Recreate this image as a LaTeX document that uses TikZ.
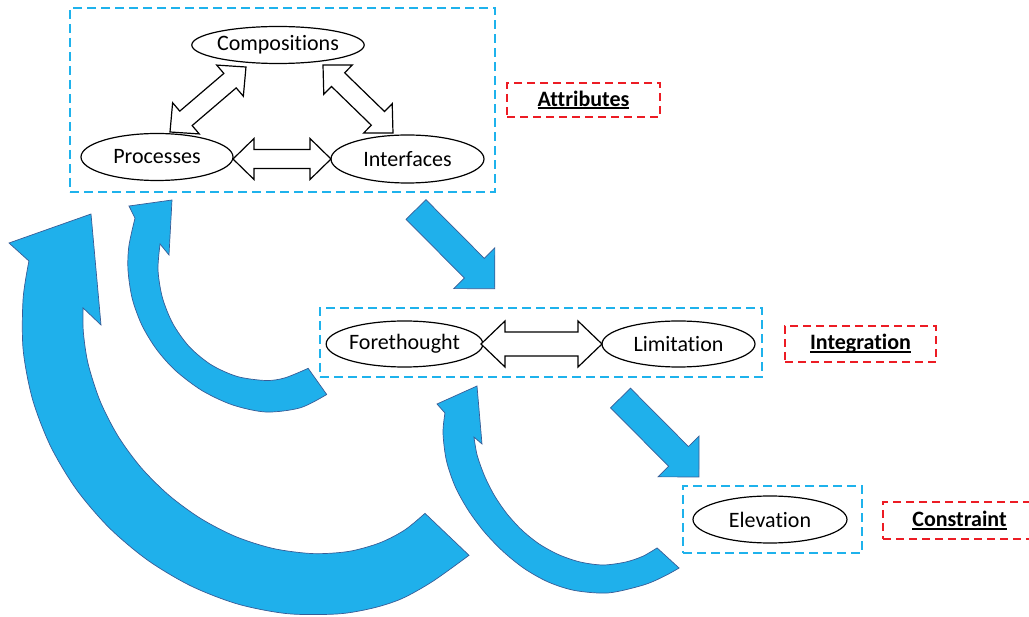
\documentclass[tikz,border=0pt]{standalone}
\usepackage{fontspec}
\setmainfont{Carlito}[Ligatures=NoCommon]
\usetikzlibrary{shapes.geometric,calc}

\definecolor{flowfill}{RGB}{31,176,235}
\definecolor{flowedge}{RGB}{56,92,150}
\definecolor{groupline}{RGB}{30,178,236}
\definecolor{tagline}{RGB}{236,28,36}

% underline at a fixed depth below the baseline, whatever the descenders
\newcommand\tagtext[1]{\setbox0\hbox{#1}\rlap{\rule[-2.8pt]{\wd0}{1.7pt}}\box0}

\tikzset{
  x=1pt, y=-1pt,
  oval/.style={ellipse, draw=black, line width=1.2pt, inner sep=0pt,
    font=\fontsize{22}{26}\selectfont},
  groupbox/.style={draw=groupline, line width=2pt, dash pattern=on 9pt off 5pt,
    inner sep=0pt},
  tagbox/.style={draw=tagline, line width=2.4pt, dash pattern=on 8pt off 5pt,
    inner sep=0pt, font=\bfseries\fontsize{22}{26}\selectfont},
  flow/.style={fill=flowfill, draw=flowedge, line width=0.7pt, line join=miter},
  hollow/.style={draw=black, fill=white, line width=1.2pt, line join=miter}
}

% hollow two-headed block arrow between two points:
% #3 half shaft width, #4 half head width, #5 head length
\newcommand\hollowlink[5]{%
  \draw[hollow] let \p1=($(#2)-(#1)$), \n1={atan2(\y1,\x1)}, \n2={veclen(\x1,\y1)} in
    [shift={(#1)}, rotate=\n1]
    (0,0) -- (#5,-#4) -- (#5,-#3) -- (\n2-#5,-#3) -- (\n2-#5,-#4) -- (\n2,0)
    -- (\n2-#5,#4) -- (\n2-#5,#3) -- (#5,#3) -- (#5,#4) -- cycle;}

% solid one-headed block arrow from a tail midpoint to a tip
\newcommand\flowarrow[2]{%
  \draw[flow] let \p1=($(#2)-(#1)$), \n1={atan2(\y1,\x1)}, \n2={veclen(\x1,\y1)} in
    [shift={(#1)}, rotate=\n1]
    (0,-14) -- (\n2-29,-14) -- (\n2-29,-29) -- (\n2,0) -- (\n2-29,29)
    -- (\n2-29,14) -- (0,14) -- cycle;}

\begin{document}
\begin{tikzpicture}
\useasboundingbox (0,0) rectangle (1029,617);
\clip (0,0) rectangle (1029,617);

% group frames
\node[groupbox, minimum width=425, minimum height=184] (attrgroup) at (282.5,100) {};
\node[groupbox, minimum width=442, minimum height=69] (integgroup) at (541,342.5) {};
\node[groupbox, minimum width=179, minimum height=67] (elevgroup) at (772.5,519.5) {};

% tags
\node[tagbox, minimum width=153, minimum height=34] (attrtag) at (583.5,100) {\tagtext{Attributes}};
\node[tagbox, minimum width=151, minimum height=36] (integtag) at (860.5,344) {\tagtext{Integration}};
\node[tagbox, minimum width=153, minimum height=37] (constag) at (959.5,520.5) {\tagtext{Constraint}};

% concepts
\node[oval, minimum width=151, minimum height=37] (comp) at (278,45) {Compositions};
\node[oval, minimum width=152, minimum height=47] (proc) at (157,157) {Processes};
\node[oval, minimum width=153, minimum height=48] (intf) at (407.5,159) {Interfaces};
\node[oval, minimum width=153, minimum height=46] (fore) at (404.5,344) {Forethought};
\node[oval, minimum width=153, minimum height=46] (limit) at (678.5,344) {Limitation};
\node[oval, minimum width=154, minimum height=47] (elev) at (770,519.5) {Elevation};

% ends of the two-headed links
\coordinate (pi1) at (233,159);  \coordinate (pi2) at (331,159);
\coordinate (pc1) at (170,132);  \coordinate (pc2) at (246,67);
\coordinate (ci1) at (323,65);   \coordinate (ci2) at (393,133);
\coordinate (fl1) at (481,344);  \coordinate (fl2) at (602,344);

\hollowlink{pi1}{pi2}{9.5}{20.5}{21}
\hollowlink{pc1}{pc2}{9.5}{20.5}{21}
\hollowlink{ci1}{ci2}{9.5}{20.5}{21}
\hollowlink{fl1}{fl2}{12}{23}{24}

% forward flow between stages
\coordinate (s1) at (416,209.5); \coordinate (t1) at (495,289);
\coordinate (s2) at (620.5,398); \coordinate (t2) at (699,477);
\flowarrow{s1}{t1}
\flowarrow{s2}{t2}

% curved feedback arrows, edges given in polar form about each arc centre

% integration back to attributes (centre 266,270)
\draw[flow, shift={(266,270)}]
  plot[smooth] coordinates {(66.8:107) (80:109.5) (90:110.5) (105:110.3)
    (120:109.5) (135:108.5) (150:107.5) (165:107.2) (180:108) (193.8:109.1)}
  -- (-97,-15) -- (-94,-70) -- (-137,-64)
  -- plot[smooth] coordinates {(201.6:140.9) (190:139.2) (180:138) (168:136.8)
    (156:135.8) (144:135.2) (132:135.3) (118:136.5) (104:139) (90:142)
    (76:142) (64:138.5)}
  -- cycle;

% constraint back to integration (centre 603,433)
\draw[flow, shift={(603,433)}]
  plot[smooth] coordinates {(64.8:127) (72:129.5) (80:131) (90:132) (100:131)
    (110:129.5) (120:128) (130:126.5) (140:125.5) (150:125.3) (160:126)
    (170:127.8) (178.2:129.1)}
  -- (-121,11) -- (-126,-47) -- (-166,-29)
  -- plot[smooth] coordinates {(187.2:159.3) (180:160) (170:159) (160:157.2)
    (150:155.3) (140:154.5) (130:155) (120:156.8) (110:158.8) (100:160)
    (88:160) (75:157.3) (67:155.8) (60.6:155)}
  -- cycle;

% constraint back to attributes (centre 313,324)
\draw[flow, shift={(313,324)}]
  plot[smooth] coordinates {(59.4:220) (66:225.5) (73:228.8) (81:230.2)
    (90:229.6) (100:228) (110:226.2) (120:224.6) (130:223.8) (140:224)
    (150:224.9) (160:226.4) (170:228.4) (178:229.8) (184:230.5)}
  -- (-212,1) -- (-222,-110) -- (-304,-81)
  -- plot[smooth] coordinates {(192.5:291) (185:291) (175:291) (165:290.4)
    (155:289.5) (145:288.7) (135:288.2) (125:288.3) (115:289) (105:290)
    (95:290.8) (85:291) (78:290.3) (72:288.6) (65:283.8) (56:279)}
  -- cycle;
\end{tikzpicture}
\end{document}
